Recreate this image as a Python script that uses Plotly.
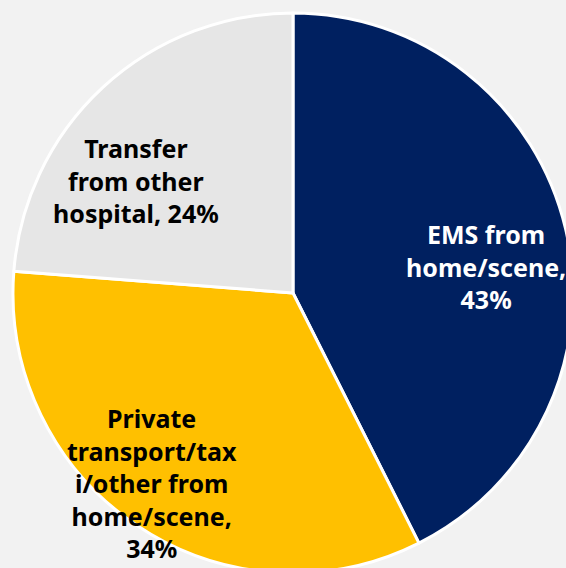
import plotly.graph_objects as go

# Arrival mode shares (percent)
categories = ["EMS from home/scene", "Private transport/taxi/other from home/scene", "Transfer from other hospital"]
values = [43, 34, 24]
label_lines = [
    "EMS from<br>home/scene,<br>{v}%",
    "Private<br>transport/tax<br>i/other from<br>home/scene,<br>{v}%",
    "Transfer<br>from other<br>hospital, {v}%",
]
slice_colors = ["#002060", "#FFC000", "#E6E6E6"]
text_colors = ["#FFFFFF", "#000000", "#000000"]
# label anchor points (pixels in the figure canvas)
label_pos = [(486, 266), (152, 483), (136, 180)]

W = H = 586
R = 280
CX = CY = 293

fig = go.Figure(
    go.Pie(
        labels=categories,
        values=values,
        sort=False,
        direction="clockwise",
        rotation=0,
        marker=dict(colors=slice_colors, line=dict(color="#FFFFFF", width=3)),
        textinfo="none",
        hoverinfo="label+percent",
        showlegend=False,
        domain=dict(x=[(CX - R) / W, (CX + R) / W], y=[1 - (CY + R) / H, 1 - (CY - R) / H]),
    )
)

for tmpl, v, col, (px, py) in zip(label_lines, values, text_colors, label_pos):
    fig.add_annotation(
        x=px / W, y=1 - py / H, xref="paper", yref="paper",
        text=tmpl.format(v=v), showarrow=False, align="center",
        font=dict(family="Noto Sans", size=25, color=col, weight="bold"),
        xanchor="center", yanchor="middle",
    )

fig.update_layout(
    width=W, height=H, autosize=False,
    margin=dict(l=0, r=0, t=0, b=0),
    paper_bgcolor="#F2F2F2", plot_bgcolor="#F2F2F2",
)

fig.write_html(
    "out.html",
    post_script="document.documentElement.style.overflow='hidden';document.body.style.overflow='hidden';document.body.style.margin='0';",
)
